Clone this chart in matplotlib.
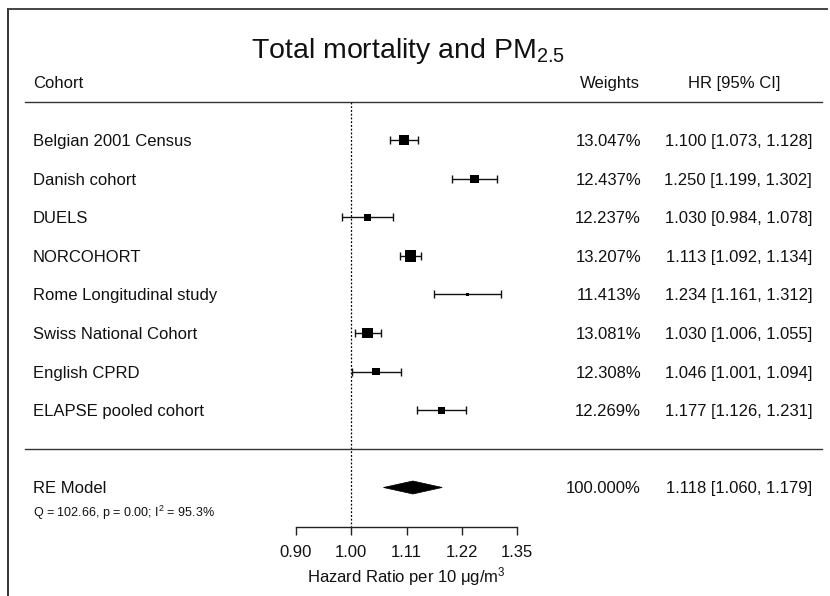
import numpy as np
import matplotlib
matplotlib.use("Agg")
import matplotlib.pyplot as plt
import matplotlib.transforms as mtransforms
from matplotlib.patches import Polygon
from matplotlib.lines import Line2D

plt.rcParams['font.family'] = ['Liberation Sans', 'DejaVu Sans']
plt.rcParams['mathtext.fontset'] = 'custom'
plt.rcParams['mathtext.rm'] = 'Liberation Sans'
plt.rcParams['mathtext.it'] = 'Liberation Sans:italic'
plt.rcParams['mathtext.bf'] = 'Liberation Sans:bold'

# ---------------- data ----------------
cohorts = ["Belgian 2001 Census", "Danish cohort", "DUELS", "NORCOHORT",
           "Rome Longitudinal study", "Swiss National Cohort", "English CPRD",
           "ELAPSE pooled cohort"]
hr = [1.100, 1.250, 1.030, 1.113, 1.234, 1.030, 1.046, 1.177]
ci_low = [1.073, 1.199, 0.984, 1.092, 1.161, 1.006, 1.001, 1.126]
ci_high = [1.128, 1.302, 1.078, 1.134, 1.312, 1.055, 1.094, 1.231]
weights = [13.047, 12.437, 12.237, 13.207, 11.413, 13.081, 12.308, 12.269]

re_label = "RE Model"
re_hr, re_low, re_high = 1.118, 1.060, 1.179
re_weight = 100.000
het_text = "Q = 102.66, p = 0.00; I$^2$ = 95.3%"

tick_logs = [-0.1, 0.0, 0.1, 0.2, 0.3]
tick_labels = ["0.90", "1.00", "1.11", "1.22", "1.35"]

title = "Total mortality and PM$_{2.5}$"
xlabel = "Hazard Ratio per 10 \u03bcg/m$^3$"

# ---------------- figure ----------------
W, H = 830, 596
fig = plt.figure(figsize=(W / 100, H / 100), dpi=100)
ax_left, ax_right = 296, 517
ax = fig.add_axes([ax_left / W, 0, (ax_right - ax_left) / W, 1])
ax.set_xscale('log')
xmin, xmax = np.exp(tick_logs[0]), np.exp(tick_logs[-1])
ax.set_xlim(xmin, xmax)
row0, rowstep = 140.0, 38.61
ax.set_ylim((H - row0) / rowstep, -row0 / rowstep)
ax.patch.set_visible(False)

def py(p):
    return (p - row0) / rowstep

TDY = 1.5 / rowstep  # small downward text offset (rows)

rows = np.arange(len(cohorts))
re_row = len(cohorts) + 1
axis_row = py(527)

# spines / axis
for s in ['top', 'left', 'right']:
    ax.spines[s].set_visible(False)
ax.spines['bottom'].set_position(('data', axis_row))
ax.spines['bottom'].set_bounds(xmin, xmax)
ax.spines['bottom'].set_linewidth(1.0)
ax.spines['bottom'].set_color('#222222')
ax.set_yticks([])
ax.set_xticks(np.exp(tick_logs))
ax.set_xticklabels(tick_labels)
ax.xaxis.set_minor_locator(matplotlib.ticker.NullLocator())
ax.tick_params(axis='x', direction='out', length=6, width=1.0, color='#222222',
               labelsize=12, pad=7, labelcolor='#111111')

# reference line
ax.plot([1.0, 1.0], [py(102), axis_row], color='black', lw=0.9,
        linestyle=(0, (1.5, 1.5)), zorder=1)

# CIs
hr_a = np.array(hr)
xerr = np.vstack([hr_a - np.array(ci_low), np.array(ci_high) - hr_a])
ax.errorbar(hr_a, rows, xerr=xerr, fmt='none', ecolor='#111111', elinewidth=1.0,
            capsize=3.1, capthick=1.0, zorder=2)

w = np.array(weights)
side_px = 3.8 + 7.6 * (w - w.min()) / (w.max() - w.min())
ax.scatter(hr_a, rows, marker='s', s=(side_px * 0.72) ** 2, color='black',
           linewidths=0, zorder=3)

# diamond
h = 6.5 / rowstep
ax.add_patch(Polygon([[re_low, re_row], [re_hr, re_row - h], [re_high, re_row],
                      [re_hr, re_row + h]], closed=True, facecolor='black',
                     edgecolor='black', lw=0.5, zorder=3))

# texts
tr = mtransforms.blended_transform_factory(fig.transFigure, ax.transData)
def fx(p):
    return p / W

fs = 12
tc = '#111111'
for i, name in enumerate(cohorts):
    ax.text(fx(33), rows[i] + TDY, name, transform=tr, ha='left', va='center', fontsize=fs, color=tc)
    ax.text(fx(641), rows[i] + TDY, f"{weights[i]:.3f}%", transform=tr, ha='right', va='center', fontsize=fs, color=tc)
    ax.text(fx(812), rows[i] + TDY, f"{hr[i]:.3f} [{ci_low[i]:.3f}, {ci_high[i]:.3f}]",
            transform=tr, ha='right', va='center', fontsize=fs, color=tc)

ax.text(fx(33), re_row + TDY, re_label, transform=tr, ha='left', va='center', fontsize=fs, color=tc)
ax.text(fx(641), re_row + TDY, f"{re_weight:.3f}%", transform=tr, ha='right', va='center', fontsize=fs, color=tc)
ax.text(fx(812), re_row + TDY, f"{re_hr:.3f} [{re_low:.3f}, {re_high:.3f}]", transform=tr,
        ha='right', va='center', fontsize=fs, color=tc)
ax.text(fx(33), py(513), het_text, transform=tr, ha='left', va='center', fontsize=9, color=tc)

# headers
ax.text(fx(33), py(83.5), "Cohort", transform=tr, ha='left', va='center', fontsize=fs, color=tc)
ax.text(fx(640), py(83.5), "Weights", transform=tr, ha='right', va='center', fontsize=fs, color=tc)
ax.text(fx(780), py(83.5), "HR [95% CI]", transform=tr, ha='right', va='center', fontsize=fs, color=tc)

# title
ax.text(fx(408), py(58.5), title, transform=tr, ha='center', va='baseline', fontsize=20.5, color=tc)

# x label
ax.text(0.5, py(577), xlabel, transform=mtransforms.blended_transform_factory(ax.transAxes, ax.transData),
        ha='center', va='center', fontsize=12, color=tc)

# horizontal separator lines
for yy in [py(102), py(449)]:
    ax.add_line(Line2D([fx(25), fx(822)], [yy, yy], transform=tr, color='#333333', lw=1.0, clip_on=False))

# border (left and top only)
fig.add_artist(Line2D([7.5 / W, 7.5 / W], [1 - 8.5 / H, 0], transform=fig.transFigure, color='#333333', lw=1.4))
fig.add_artist(Line2D([7.5 / W, 828 / W], [1 - 8.5 / H, 1 - 8.5 / H], transform=fig.transFigure,
                      color='#444444', lw=1.4, solid_capstyle='butt'))

fig.savefig("out.png", dpi=100)
